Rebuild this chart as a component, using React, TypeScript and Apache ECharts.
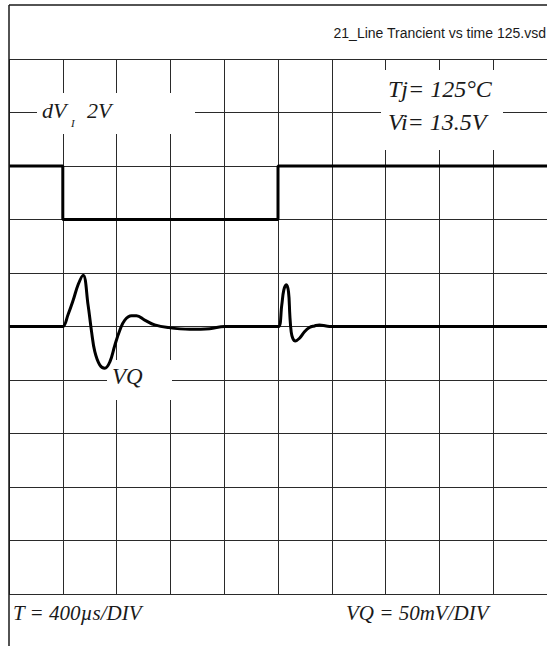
import React, { useEffect, useRef } from "react";
import * as echarts from "echarts";

// Time axis: 400 µs per division, 10 divisions
const TIME_MIN = 0;
const TIME_MAX = 4000;
const TIME_DIV = 400;
// Vertical axis in screen divisions (0 = bottom, 10 = top)
const DIV_MIN = 0;
const DIV_MAX = 10;
const DIV_STEP = 1;

// dV_I input step (2 V per division): time (µs) and level (div)
const stepTime = [0, 400, 400, 2000, 2000, 4000];
const stepLevel = [8, 8, 7, 7, 8, 8];

// VQ response (50 mV per division), baseline at division 5
const vqTime = [
  0, 330, 370, 400, 440, 477, 515, 551, 588, 614, 638, 675, 712, 750, 787,
  824, 861, 911, 948, 1009, 1083, 1182, 1343, 1492, 1603, 1700, 1940, 1975,
  2005, 2028, 2043, 2061, 2078, 2088, 2098, 2110, 2128, 2160, 2197, 2234,
  2271, 2308, 2358, 2395, 2440, 2500, 4000,
];
const vqLevel = [
  5.0, 5.0, 5.0, 5.0, 5.23, 5.49, 5.79, 5.96, 5.4, 4.9, 4.53, 4.28, 4.22,
  4.34, 4.65, 4.93, 5.12, 5.2, 5.2, 5.12, 5.03, 4.98, 4.95, 4.96, 5.0, 5.0,
  5.0, 5.0, 5.0, 5.4, 5.68, 5.78, 5.65, 5.21, 4.9, 4.78, 4.73, 4.78, 4.9,
  4.98, 5.01, 5.03, 5.01, 5.0, 5.0, 5.0, 5.0,
];

const FILE_NAME = "21_Line Trancient vs time 125.vsd";
const TIME_SCALE = "T = 400µs/DIV";
const VQ_SCALE = "VQ = 50mV/DIV";

const SERIF = '"Liberation Serif", "DejaVu Serif", serif';
const SANS = '"Liberation Sans", Arial, sans-serif';
const INK = "#1a1a1a";

function label(text: string, x: number, baseline: number, size: number, extra: any = {}) {
  return {
    type: "text",
    x,
    y: baseline - size * 0.34,
    z: 20,
    style: {
      text,
      font: `italic ${size}px ${SERIF}`,
      fill: INK,
      textAlign: "left",
      textVerticalAlign: "middle",
      ...extra,
    },
  };
}

function whiteBox(x: number, y: number, w: number, h: number) {
  return {
    type: "rect",
    z: 5,
    shape: { x, y, width: w, height: h },
    style: { fill: "#ffffff", stroke: null },
  };
}

export default function App() {
  const ref = useRef<HTMLDivElement>(null);

  useEffect(() => {
    if (!ref.current) return;
    const chart = echarts.init(ref.current, null, { renderer: "svg" });

    const stepData = stepTime.map((t, i) => [t, stepLevel[i]]);
    const vqData = vqTime.map((t, i) => [t, vqLevel[i]]);

    const splitStyle = { show: true, lineStyle: { color: "#2a2a2a", width: 1 } };

    chart.setOption({
      animation: false,
      backgroundColor: "#ffffff",
      grid: { left: 9, top: 59, width: 539, height: 535, containLabel: false },
      xAxis: {
        type: "value",
        min: TIME_MIN,
        max: TIME_MAX,
        interval: TIME_DIV,
        axisLine: { show: false },
        axisTick: { show: false },
        axisLabel: { show: false },
        splitLine: splitStyle,
      },
      yAxis: {
        type: "value",
        min: DIV_MIN,
        max: DIV_MAX,
        interval: DIV_STEP,
        axisLine: { show: false },
        axisTick: { show: false },
        axisLabel: { show: false },
        splitLine: splitStyle,
      },
      series: [
        {
          name: "dV_I",
          type: "line",
          data: stepData,
          symbol: "none",
          z: 10,
          lineStyle: { color: "#000", width: 3 },
        },
        {
          name: "VQ",
          type: "line",
          data: vqData,
          symbol: "none",
          smooth: 0.4,
          z: 10,
          lineStyle: { color: "#000", width: 3, join: "round" },
        },
      ],
      graphic: [
        {
          type: "line",
          z: 20,
          shape: { x1: 9, y1: 5, x2: 547, y2: 5 },
          style: { stroke: INK, lineWidth: 1.5 },
        },
        {
          type: "line",
          z: 20,
          shape: { x1: 9, y1: 5, x2: 9, y2: 646 },
          style: { stroke: INK, lineWidth: 1.5 },
        },
        whiteBox(37, 93, 158, 41),
        whiteBox(381, 70, 122, 80),
        whiteBox(107, 360, 65, 40),
        {
          type: "text",
          x: 546,
          y: 33,
          z: 20,
          style: {
            text: FILE_NAME,
            font: `14px ${SANS}`,
            fill: INK,
            textAlign: "right",
            textVerticalAlign: "middle",
          },
        },
        label("dV", 42, 118, 22),
        label("I", 71, 126.5, 11),
        label("2V", 87, 118, 22),
        label("Tj= 125°C", 388, 97, 24),
        label("Vi= 13.5V", 388, 130.5, 24),
        label("VQ", 112, 384, 23),
        label(TIME_SCALE, 13, 620, 21),
        label(VQ_SCALE, 346, 620, 21),
      ],
    });

    return () => chart.dispose();
  }, []);

  return (
    <div
      ref={ref}
      style={{
        position: "absolute",
        left: 0,
        top: 0,
        width: 547,
        height: 646,
        background: "#fff",
      }}
    />
  );
}
